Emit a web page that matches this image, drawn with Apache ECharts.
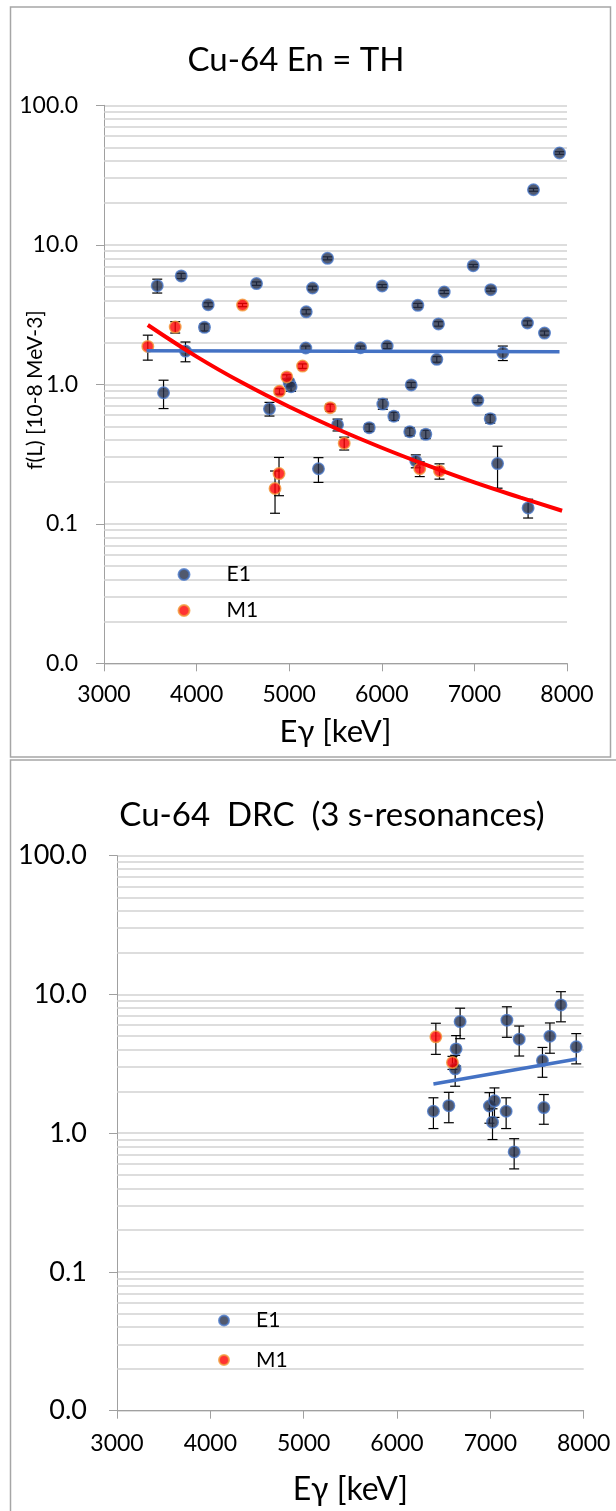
<!DOCTYPE html>
<html>
<head>
<meta charset="utf-8">
<script src="https://cdn.jsdelivr.net/npm/echarts@6/dist/echarts.min.js"></script>
<style>
  html, body { margin: 0; padding: 0; background: #fff; }
  #chart { width: 616px; height: 1511px; }
</style>
</head>
<body>
<div id="chart"></div>
<script>
// ---- Thermal-neutron capture (En = TH): [E_gamma keV, f(L), error] ----
const thE1 = [
  [3575, 5.09, 0.58], [3643, 0.87, 0.20], [3834, 5.98, 0.25], [3880, 1.73, 0.28],
  [4085, 2.56, 0.15], [4125, 3.72, 0.12], [4647, 5.27, 0.15], [4787, 0.667, 0.075],
  [5000, 1.03, 0.06], [5020, 0.96, 0.07], [5179, 1.82, 0.06], [5184, 3.31, 0.12],
  [5252, 4.90, 0.15], [5316, 0.248, 0.05], [5414, 8.0, 0.2], [5522, 0.513, 0.05],
  [5770, 1.83, 0.05], [5864, 0.489, 0.03], [6004, 5.07, 0.12], [6011, 0.722, 0.06],
  [6058, 1.88, 0.08], [6130, 0.59, 0.04], [6302, 0.457, 0.03], [6318, 0.99, 0.04],
  [6367, 0.282, 0.03], [6389, 3.68, 0.12], [6475, 0.438, 0.03], [6594, 1.51, 0.07],
  [6612, 2.71, 0.10], [6674, 4.59, 0.12], [6987, 7.08, 0.15], [7037, 0.768, 0.03],
  [7171, 0.567, 0.04], [7177, 4.77, 0.12], [7250, 0.27, 0.09], [7307, 1.68, 0.20],
  [7573, 2.75, 0.10], [7580, 0.13, 0.02], [7638, 24.8, 0.6], [7757, 2.33, 0.08],
  [7919, 45.5, 1.0]
];
const thM1 = [
  [3473, 1.87, 0.38], [3769, 2.57, 0.24], [4496, 3.70, 0.10], [4847, 0.179, 0.06],
  [4890, 0.229, 0.07], [4895, 0.89, 0.04], [4974, 1.13, 0.04], [5144, 1.35, 0.05],
  [5443, 0.68, 0.04], [5594, 0.378, 0.04], [6410, 0.248, 0.03], [6623, 0.239, 0.03]
];
const thE1Trend = [[3460, 1.74], [7919, 1.71]];
const thM1Trend = [
  [3473, 2.66], [4000, 1.58], [4500, 1.02], [5000, 0.69], [5500, 0.484],
  [6000, 0.351], [6500, 0.261], [7000, 0.198], [7500, 0.154], [7947, 0.124]
];

// ---- DRC, 3 s-resonances: [E_gamma keV, f(L), error] ----
const drcE1 = [
  [6390, 1.44, 0.36], [6555, 1.58, 0.39], [6623, 2.91, 0.73], [6633, 4.05, 1.00],
  [6676, 6.38, 1.58], [6990, 1.57, 0.39], [7023, 1.20, 0.30], [7044, 1.71, 0.41],
  [7169, 1.44, 0.36], [7177, 6.53, 1.62], [7255, 0.733, 0.18], [7309, 4.76, 1.16],
  [7558, 3.34, 0.81], [7573, 1.53, 0.37], [7638, 5.00, 1.23], [7756, 8.41, 2.06],
  [7920, 4.19, 1.03]
];
const drcM1 = [[6416, 4.95, 1.25], [6594, 3.23, 0.35]];
const drcE1Trend = [[6390, 2.26], [7927, 3.43]];

// ---- axis ticks ----
const xTicks = { min: 3000, max: 8000, step: 1000 };
const yRange = { min: 0.01, max: 100 };
const minorGrid = [
  0.02, 0.03, 0.04, 0.05, 0.06, 0.07, 0.08, 0.09,
  0.2, 0.3, 0.4, 0.5, 0.6, 0.7, 0.8, 0.9,
  2, 3, 4, 5, 6, 7, 8, 9,
  20, 30, 40, 50, 60, 70, 80, 90
];

const FONT = 'Lato, "Open Sans", sans-serif';
const AXIS_GRAY = '#A0A0A0';
const GRID_GRAY = '#D2D2D2';
const E1_STYLE = { color: '#25304A', borderColor: '#4A78C8', borderWidth: 1.5 };
const M1_STYLE = { color: '#FF0000', borderColor: '#F29A3A', borderWidth: 1.5 };

function errorBarItem(params, api) {
  const x = api.value(0);
  const top = api.coord([x, api.value(2)]);
  const bot = api.coord([x, api.value(1)]);
  const half = 5;
  const style = { stroke: '#000', lineWidth: 1.2 };
  return {
    type: 'group',
    children: [
      { type: 'line', shape: { x1: top[0], y1: top[1], x2: bot[0], y2: bot[1] }, style },
      { type: 'line', shape: { x1: top[0] - half, y1: top[1], x2: top[0] + half, y2: top[1] }, style },
      { type: 'line', shape: { x1: bot[0] - half, y1: bot[1], x2: bot[0] + half, y2: bot[1] }, style }
    ]
  };
}

const toBars = pts => pts.map(p => [p[0], p[1] - p[2], p[1] + p[2]]);
const toXY = pts => pts.map(p => [p[0], p[1]]);

function errSeries(pts, idx) {
  return {
    type: 'custom', xAxisIndex: idx, yAxisIndex: idx, z: 3, silent: true,
    renderItem: errorBarItem, encode: { x: 0, y: [1, 2] }, data: toBars(pts)
  };
}
function dotSeries(name, pts, idx, style, size) {
  return {
    name, type: 'scatter', xAxisIndex: idx, yAxisIndex: idx, z: 4,
    symbol: 'circle', symbolSize: size, itemStyle: style, data: toXY(pts)
  };
}
function trendSeries(name, pts, idx, color, width, smooth, withGrid) {
  const s = {
    name, type: 'line', xAxisIndex: idx, yAxisIndex: idx, z: 5, silent: true,
    showSymbol: false, symbol: 'none', smooth: smooth,
    lineStyle: { color, width }, data: pts
  };
  if (withGrid) {
    s.markLine = {
      silent: true, symbol: 'none', z: 1, animation: false,
      label: { show: false },
      lineStyle: { color: GRID_GRAY, width: 1.5, type: 'solid' },
      emphasis: { disabled: true },
      data: minorGrid.map(v => ({ yAxis: v }))
    };
  }
  return s;
}

function xAxisDef(idx, labelSize, labelMargin, nameSize, nameGap) {
  return {
    type: 'value', gridIndex: idx, min: xTicks.min, max: xTicks.max, interval: xTicks.step,
    axisLine: { show: true, lineStyle: { color: AXIS_GRAY, width: 1 } },
    axisTick: { show: true, length: 8, lineStyle: { color: AXIS_GRAY } },
    splitLine: { show: false },
    axisLabel: { fontSize: labelSize, margin: labelMargin, color: '#000', fontFamily: FONT,
                 formatter: v => String(v) },
    name: 'Eγ [keV]', nameLocation: 'middle', nameGap: nameGap, nameMoveOverlap: false,
    nameTextStyle: { fontSize: nameSize, color: '#000', fontFamily: FONT }
  };
}
function yAxisDef(idx, labelSize, labelMargin) {
  return {
    type: 'log', logBase: 10, gridIndex: idx, min: yRange.min, max: yRange.max,
    axisLine: { show: true, lineStyle: { color: AXIS_GRAY, width: 1 } },
    axisTick: { show: true, length: 8, lineStyle: { color: AXIS_GRAY } },
    splitLine: { show: true, lineStyle: { color: GRID_GRAY, width: 1.5 } },
    axisLabel: { fontSize: labelSize, margin: labelMargin, color: '#000', fontFamily: FONT,
                 formatter: v => Number(v).toFixed(1) }
  };
}

const option = {
  animation: false,
  textStyle: { fontFamily: FONT },
  graphic: [
    // panel frames
    { type: 'rect', silent: true, shape: { x: 10.5, y: 7, width: 600, height: 750 },
      style: { fill: 'transparent', stroke: '#A6A6A6', lineWidth: 1.5 } },
    { type: 'rect', silent: true, shape: { x: 10.5, y: 760, width: 640, height: 800 },
      style: { fill: 'transparent', stroke: '#A6A6A6', lineWidth: 1.5 } },
    // vertical title of the upper value axis
    { type: 'text', silent: true, x: 35, y: 390, rotation: Math.PI / 2,
      style: { text: 'f(L) [10-8 MeV-3]', font: 'normal 21px Lato', fill: '#000',
               align: 'center', verticalAlign: 'middle' } }
  ],
  title: [
    { text: 'Cu-64 En = TH', left: 296, top: 44, padding: 0, textAlign: 'center',
      textStyle: { fontSize: 33, fontWeight: 'normal', color: '#000', fontFamily: FONT } },
    { text: 'Cu-64  DRC  (3 s-resonances)', left: 332, top: 799, padding: 0, textAlign: 'center',
      textStyle: { fontSize: 33, fontWeight: 'normal', color: '#000', fontFamily: FONT } }
  ],
  legend: [
    { orient: 'vertical', left: 177.5, top: 564, padding: 0, itemWidth: 11, itemHeight: 11,
      itemGap: 15, selectedMode: false, data: ['E1', 'M1'],
      textStyle: { fontSize: 21, lineHeight: 21, color: '#000', fontFamily: FONT, padding: [0, 0, 0, 32] } },
    { orient: 'vertical', left: 218, top: 1310, padding: 0, itemWidth: 10, itemHeight: 10,
      itemGap: 18.5, selectedMode: false, data: ['E1', 'M1'],
      textStyle: { fontSize: 21, lineHeight: 21, color: '#000', fontFamily: FONT, padding: [0, 0, 0, 22] } }
  ],
  grid: [
    { left: 104, top: 105.3, width: 463, height: 558, containLabel: false, outerBoundsMode: 'none' },
    { left: 117, top: 855.7, width: 466.7, height: 555, containLabel: false, outerBoundsMode: 'none' }
  ],
  xAxis: [ xAxisDef(0, 23, 20, 31, 53), xAxisDef(1, 23, 21, 32, 63) ],
  yAxis: [ yAxisDef(0, 23, 26), yAxisDef(1, 27, 30) ],
  series: [
    errSeries(thE1, 0),
    errSeries(thM1, 0),
    dotSeries('E1', thE1, 0, E1_STYLE, 11.5),
    dotSeries('M1', thM1, 0, M1_STYLE, 11.5),
    trendSeries('E1 trend', thE1Trend, 0, '#4472C4', 3.5, false, true),
    trendSeries('M1 trend', thM1Trend, 0, '#FF0000', 4, 0.4, false),

    errSeries(drcE1, 1),
    errSeries(drcM1, 1),
    dotSeries('E1', drcE1, 1, E1_STYLE, 11.5),
    dotSeries('M1', drcM1, 1, M1_STYLE, 11.5),
    trendSeries('E1 trend DRC', drcE1Trend, 1, '#4472C4', 3.5, false, true)
  ]
};

const chart = echarts.init(document.getElementById('chart'), null, { renderer: 'canvas' });
chart.setOption(option);
</script>
</body>
</html>
